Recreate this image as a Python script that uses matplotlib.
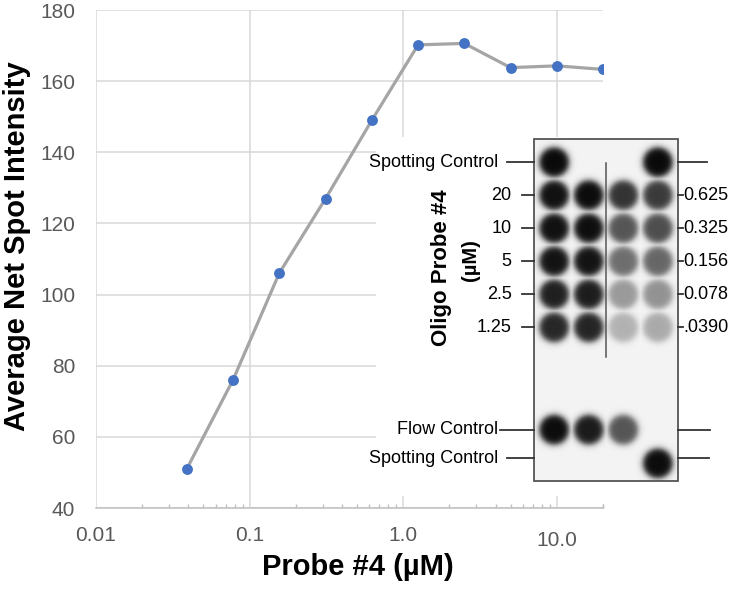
import numpy as np
import matplotlib
matplotlib.use("Agg")
import matplotlib.pyplot as plt
import matplotlib.transforms as mtransforms
from matplotlib.patches import Rectangle
from matplotlib.ticker import FixedLocator, NullFormatter

plt.rcParams['font.family'] = ['Liberation Sans', 'DejaVu Sans']

# dose-response data
probe_conc = [0.039, 0.078, 0.156, 0.3125, 0.625, 1.25, 2.5, 5, 10, 20]
intensity = [51, 76, 106, 127, 149, 170.2, 170.6, 163.8, 164.3, 163.3]
xtick_vals = [0.01, 0.1, 1.0, 10.0]
xtick_labels = ['0.01', '0.1', '1.0', '10.0']
ytick_vals = [40, 60, 80, 100, 120, 140, 160, 180]

# blot inset data: spot darkness (0 = no spot, 1 = black)
left_conc = ['20', '10', '5', '2.5', '1.25']
right_conc = ['0.625', '0.325', '0.156', '0.078', '.0390']
spot_ctrl_top = [0.96, 0, 0, 0.96]
dilution_spots = [
    [0.93, 0.95, 0.79, 0.76],
    [0.93, 0.94, 0.65, 0.68],
    [0.92, 0.92, 0.55, 0.58],
    [0.87, 0.88, 0.37, 0.40],
    [0.84, 0.85, 0.27, 0.30],
]
flow_ctrl = [0.95, 0.89, 0.65, 0]
spot_ctrl_bottom = [0, 0, 0, 0.95]

W, H = 740, 589
fig = plt.figure(figsize=(W / 100, H / 100), dpi=100)

def px_box(x0, y0, x1, y1):
    return [x0 / W, 1 - y1 / H, (x1 - x0) / W, (y1 - y0) / H]

ax = fig.add_axes(px_box(96, 10, 603, 508))
ax.set_xscale('log')
ax.set_xlim(0.01, 20)
ax.set_ylim(40, 180)
ax.plot(probe_conc, intensity, color='#A5A5A5', lw=2.3, zorder=3,
        marker='o', markersize=6.8, markerfacecolor='#4472C4', markeredgecolor='#4472C4')

ax.set_yticks(ytick_vals)
ax.set_xticks(xtick_vals, xtick_labels)
ax.xaxis.set_minor_locator(FixedLocator(
    [m * d for d in [0.01, 0.1, 1, 10] for m in range(2, 10)] + [20]))
ax.xaxis.set_minor_formatter(NullFormatter())
ax.grid(True, which='major', color='#D9D9D9', lw=1.1)
ax.set_axisbelow(True)
for s in ['top', 'right', 'left']:
    ax.spines[s].set_visible(False)
ax.spines['bottom'].set_color('#BFBFBF')
ax.spines['bottom'].set_linewidth(1.1)
ax.tick_params(axis='y', length=0, pad=15, labelsize=15, labelcolor='#595959')
ax.tick_params(axis='x', which='major', length=0, pad=13, labelsize=15, labelcolor='#595959')
ax.tick_params(axis='x', which='minor', direction='in', length=3, width=1, color='#BFBFBF')
lab = ax.get_xticklabels()[3]
lab.set_transform(lab.get_transform() + mtransforms.ScaledTranslation(0, -5 / 100, fig.dpi_scale_trans))

fig.text(17 / W, 1 - 246 / H, 'Average Net Spot Intensity', rotation=90, ha='center', va='center',
         fontsize=21, fontweight='bold')
fig.text(358 / W, 1 - 567 / H, 'Probe #4 (\u00b5M)', ha='center', va='center',
         fontsize=21, fontweight='bold')

# ---- blot inset ----
COL_PX, ROW_PX = 34.5, 33.0
X0_PX, Y0_PX = 554.3, 162.3
ins_l, ins_t, ins_r, ins_b = 376, 137, 740, 496
axi = fig.add_axes(px_box(ins_l, ins_t, ins_r, ins_b), zorder=5)
axi.set_xlim((ins_l - X0_PX) / COL_PX, (ins_r - X0_PX) / COL_PX)
axi.set_ylim((ins_b - Y0_PX) / ROW_PX, (ins_t - Y0_PX) / ROW_PX)
axi.set_axis_off()
axi.add_patch(Rectangle((0, 0), 1, 1, transform=axi.transAxes, facecolor='white', edgecolor='none', zorder=0))

rows_y = [0, 1, 2, 3, 4, 5, 8.1, 9.12]
spot_table = [spot_ctrl_top] + dilution_spots + [flow_ctrl, spot_ctrl_bottom]
bx0, bx1 = (534.3 - X0_PX) / COL_PX, (677.7 - X0_PX) / COL_PX
by0, by1 = (139.3 - Y0_PX) / ROW_PX, (480.7 - Y0_PX) / ROW_PX

nx, ny = 432, 1026
gx = np.linspace(bx0, bx1, nx)
gy = np.linspace(by0, by1, ny)
GX, GY = np.meshgrid(gx, gy)
dark = np.zeros_like(GX)
for ry, vals in zip(rows_y, spot_table):
    for c, d in enumerate(vals):
        if d <= 0:
            continue
        r = np.hypot((GX - c) * COL_PX, (GY - ry) * ROW_PX)
        dark = np.maximum(dark, d / (1 + np.exp((r - 14.6) / 1.8)))
img = 0.955 * (1 - dark)
axi.imshow(img, cmap='gray', vmin=0, vmax=1, extent=[bx0, bx1, by1, by0],
           aspect='auto', interpolation='bilinear', zorder=1)
axi.add_patch(Rectangle((bx0, by0), bx1 - bx0, by1 - by0, facecolor='none',
                        edgecolor='#555555', lw=1.3, zorder=2))
# divider line between left and right dilution series
axi.plot([1.5, 1.5], [0.02, 5.89], color='#555555', lw=1.1, zorder=3)

lc = '#333333'
fs = 13
def side_label(text, ly, lx0, rx1):
    axi.text(-1.63, ly, text, ha='right', va='center', fontsize=fs)
    axi.plot([lx0, bx0], [ly, ly], color=lc, lw=1.3)
    axi.plot([bx1, rx1], [ly, ly], color=lc, lw=1.3)

side_label('Spotting Control', 0, -1.38, 4.42)
side_label('Flow Control', 8.1, -1.575, 4.51)
side_label('Spotting Control', 8.97, -1.38, 4.47)

for i, (lt, rt) in enumerate(zip(left_conc, right_conc)):
    ry = rows_y[i + 1]
    axi.text(-1.235, ry, lt, ha='right', va='center', fontsize=fs)
    axi.plot([-0.94, bx0], [ry, ry], color=lc, lw=1.3)
    axi.plot([bx1, 3.73], [ry, ry], color=lc, lw=1.3)
    axi.text(3.745, ry, rt, ha='left', va='center', fontsize=fs)

axi.text(-3.26, 3.19, 'Oligo Probe #4', rotation=90, ha='center', va='center',
         fontsize=16, fontweight='bold')
axi.text(-2.44, 2.96, '(\u00b5M)', rotation=90, ha='center', va='center',
         fontsize=14.5, fontweight='bold')

fig.savefig('out.png', dpi=100)
